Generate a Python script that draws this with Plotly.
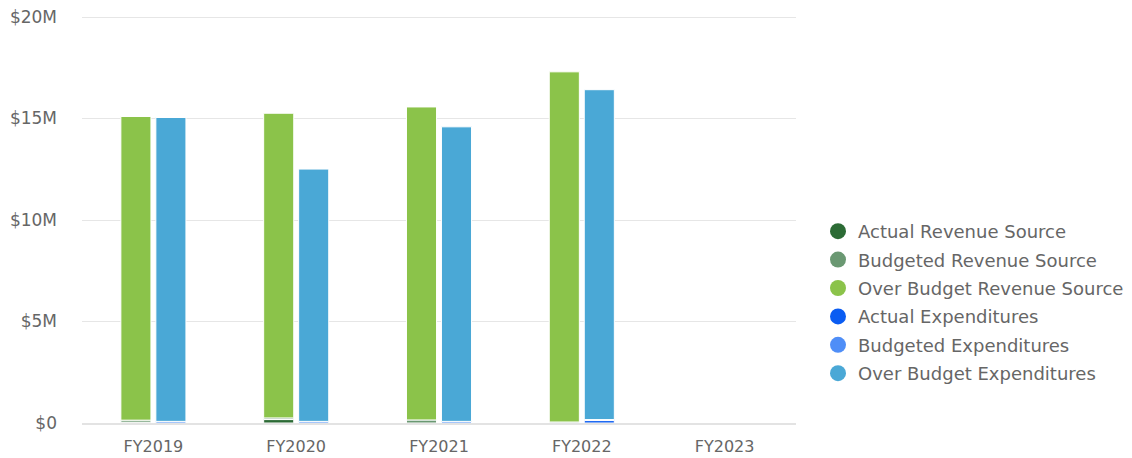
import numpy as np
import plotly.graph_objects as go

# Fiscal years on the x axis
categories = ["FY2019", "FY2020", "FY2021", "FY2022", "FY2023"]

# Revenue stack (millions of dollars)
actual_revenue = [0.04, 0.17, 0.0, 0.0, 0.0]
budgeted_revenue = [0.10, 0.08, 0.15, 0.05, 0.0]
over_budget_revenue = [14.96, 15.01, 15.42, 17.25, 0.0]

# Expenditure stack (millions of dollars)
actual_expenditures = [0.0, 0.0, 0.0, 0.12, 0.0]
budgeted_expenditures = [0.08, 0.08, 0.08, 0.05, 0.0]
over_budget_expenditures = [14.97, 12.43, 14.51, 16.25, 0.0]

# Y axis ticks
tick_values = [0, 5, 10, 15, 20]
tick_labels = ["$0", "$5M", "$10M", "$15M", "$20M"]

TEXT = "#666666"
FONT = "DejaVu Sans"

series = [
    ("Actual Revenue Source", actual_revenue, "#2c6b35", "rev"),
    ("Budgeted Revenue Source", budgeted_revenue, "#6a9872", "rev"),
    ("Over Budget Revenue Source", over_budget_revenue, "#8bc34a", "rev"),
    ("Actual Expenditures", actual_expenditures, "#0a5cf2", "exp"),
    ("Budgeted Expenditures", budgeted_expenditures, "#4f8ef7", "exp"),
    ("Over Budget Expenditures", over_budget_expenditures, "#4aa8d6", "exp"),
]

fig = go.Figure()

# Stacked bars: each series sits on top of the earlier ones in its group
bases = {"rev": np.zeros(len(categories)), "exp": np.zeros(len(categories))}
for name, values, color, group in series:
    vals = np.array(values, dtype=float)
    fig.add_trace(go.Bar(
        x=categories, y=vals, base=bases[group].copy(),
        offsetgroup=group, name=name, showlegend=False,
        marker=dict(color=color, line=dict(color="#ffffff", width=1)),
        hovertemplate="%{x}<br>" + name + ": $%{y:.2f}M<extra></extra>",
    ))
    bases[group] = bases[group] + vals

# Circle symbols for the legend entries
for i, (name, values, color, group) in enumerate(series):
    fig.add_trace(go.Scatter(
        x=[None], y=[None], mode="markers", name=name,
        legendgroup=f"g{i}",
        marker=dict(symbol="circle", size=16, color=color),
    ))

fig.update_layout(
    width=1132, height=458,
    margin=dict(l=82, r=336, t=15, b=35, autoexpand=False),
    paper_bgcolor="#ffffff", plot_bgcolor="#ffffff",
    barmode="group", bargap=0.51, bargroupgap=0.14,
    font=dict(family=FONT, color=TEXT, size=16),
    legend=dict(
        xref="container", yref="container",
        x=818 / 1132, y=1 - 302.5 / 458, xanchor="left", yanchor="middle",
        font=dict(size=18, color=TEXT, family=FONT),
        tracegroupgap=2, itemsizing="trace",
    ),
    xaxis=dict(
        type="category", showgrid=False, ticks="",
        showline=True, linecolor="#e3e3e3", linewidth=2,
        tickfont=dict(size=16, color=TEXT),
        ticklabelstandoff=8, automargin=False,
    ),
    yaxis=dict(
        range=[0, 20.1], tickvals=tick_values, ticktext=tick_labels,
        showgrid=True, gridcolor="#e6e6e6", gridwidth=1,
        zeroline=False, showline=False, ticks="",
        tickfont=dict(size=17, color=TEXT),
        ticklabelstandoff=24, automargin=False,
    ),
)

fig.write_html("out.html")
